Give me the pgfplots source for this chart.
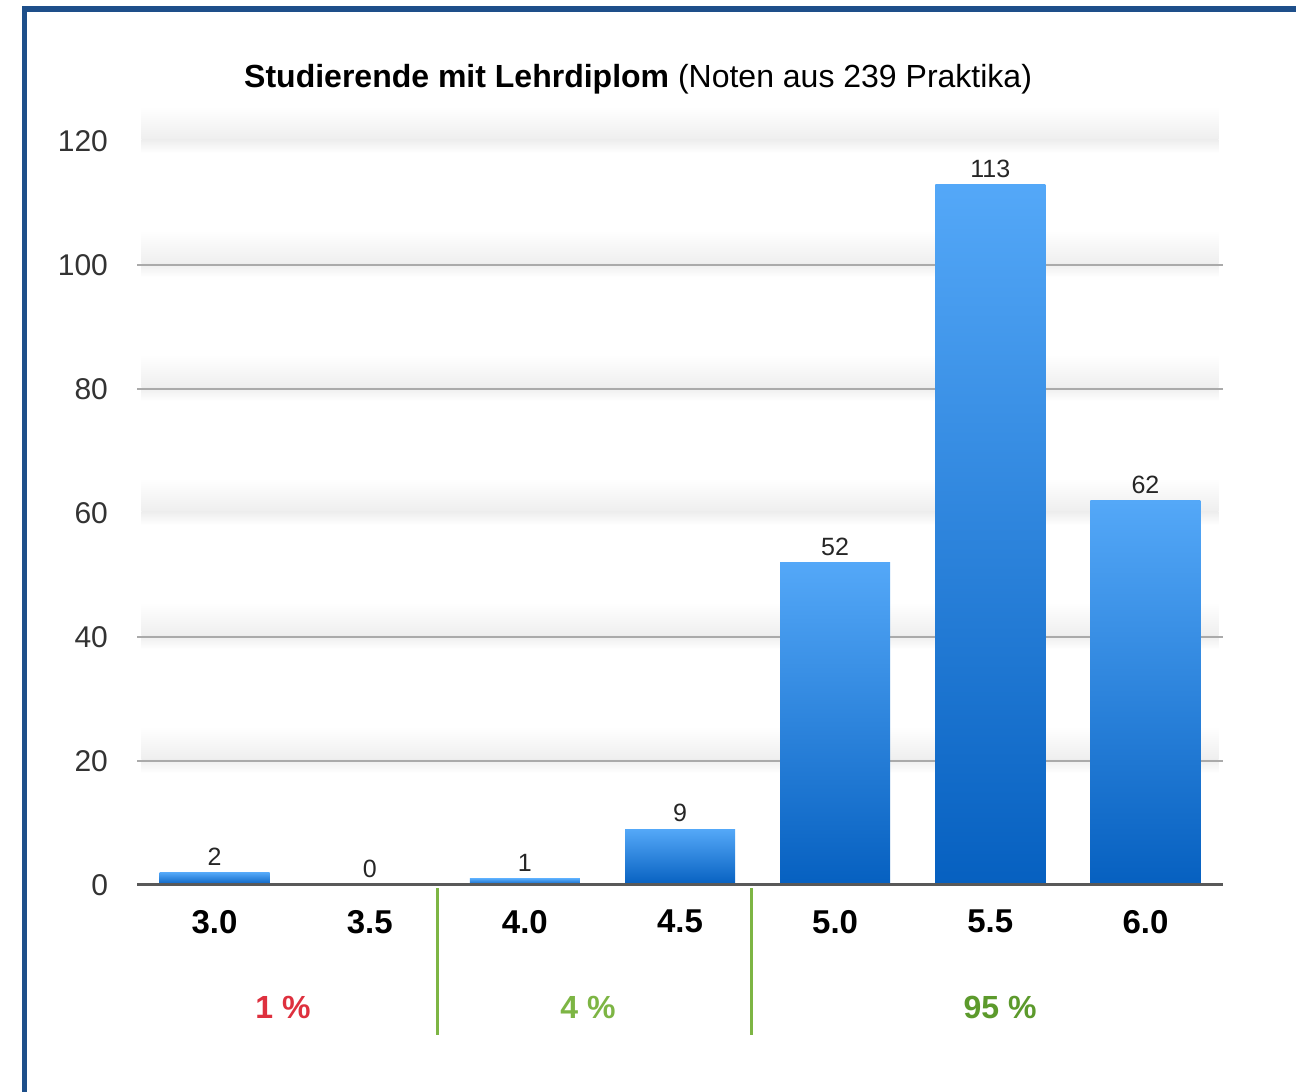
\documentclass[border=0pt]{standalone}
\usepackage{pgfplots}
\pgfplotsset{compat=1.18}
\usepackage{fontspec}
\setmainfont{Liberation Sans}
\definecolor{barlight}{RGB}{84,168,248}
\definecolor{bardark}{RGB}{6,96,192}
\definecolor{frameblue}{RGB}{30,79,138}
\definecolor{pctred}{RGB}{222,48,62}
\definecolor{pctgreen}{RGB}{125,181,68}
\definecolor{pctdkgreen}{RGB}{92,154,44}
\definecolor{gridgray}{RGB}{170,170,170}
\definecolor{bandgray}{RGB}{238,238,238}
\pgfplotsset{gbar/.style={ybar, bar width=55pt, bar shift=0pt, draw=none, shading=axis, top color=barlight, bottom color=bardark, nodes near coords}}
\begin{document}
\begin{tikzpicture}
\useasboundingbox (0,0) rectangle (648pt,546pt);
\fill[white] (0,0) rectangle (648pt,546pt);
\draw[frameblue, line width=2.6pt] (12.25pt,0) -- (12.25pt,541.5pt) -- (648pt,541.5pt);
\begin{axis}[
  at={(68.5pt,103.5pt)}, anchor=south west,
  scale only axis, width=543pt, height=372pt,
  xmin=-0.5, xmax=6.5, ymin=0, ymax=120,
  xtick={0,...,6}, xticklabels={3.0,3.5,4.0,4.5,5.0,5.5,6.0},
  ytick={0,20,...,120},
  axis line style={draw=none},
  tick style={draw=none},
  xticklabel style={font=\bfseries\fontsize{16.5}{19}\selectfont, yshift=-9pt},
  yticklabel style={font=\fontsize{15}{17}\selectfont, text=black!80, xshift=-11pt},
  /pgf/number format/assume math mode=true,
  clip=false,
  every node near coord/.append style={font=\fontsize{12.5}{15}\selectfont, text=black!85},
]
\pgfplotsinvokeforeach{20,40,60,80,100,120}{
  \shade[top color=white, bottom color=bandgray] ([yshift=0.5pt]axis cs:-0.47,#1) rectangle ([yshift=17pt]axis cs:6.47,#1);
  \shade[top color=bandgray, bottom color=white] ([yshift=-6pt]axis cs:-0.47,#1) rectangle ([yshift=0.5pt]axis cs:6.47,#1);
}
\pgfplotsinvokeforeach{20,40,80,100}{
  \draw[gridgray, line width=1pt] (axis cs:-0.5,#1) -- (axis cs:6.5,#1);
}
\addplot[gbar] coordinates {(0,2)};
\addplot[ybar, bar width=55pt, bar shift=0pt, draw=none, fill=none, nodes near coords] coordinates {(1,0)};
\addplot[gbar] coordinates {(2,1)};
\addplot[gbar] coordinates {(3,9)};
\addplot[gbar] coordinates {(4,52)};
\addplot[gbar] coordinates {(5,113)};
\addplot[gbar] coordinates {(6,62)};
\draw[black!65, line width=1.5pt] (axis cs:-0.5,0) -- (axis cs:6.5,0);
\node[font=\fontsize{16}{19}\selectfont] at (axis cs:2.73,130) {\textbf{Studierende mit Lehrdiplom} (Noten aus 239 Praktika)};
\draw[pctgreen, line width=1.5pt] (axis cs:1.434,-0.5) -- (axis cs:1.434,-24.2);
\draw[pctgreen, line width=1.5pt] (axis cs:3.464,-0.5) -- (axis cs:3.464,-24.2);
\node[pctred, font=\bfseries\fontsize{16}{19}\selectfont] at (axis cs:0.441,-19.8) {1 \%};
\node[pctgreen, font=\bfseries\fontsize{16}{19}\selectfont] at (axis cs:2.407,-19.8) {4 \%};
\node[pctdkgreen, font=\bfseries\fontsize{16}{19}\selectfont] at (axis cs:5.063,-19.8) {95 \%};
\end{axis}
\end{tikzpicture}
\end{document}
